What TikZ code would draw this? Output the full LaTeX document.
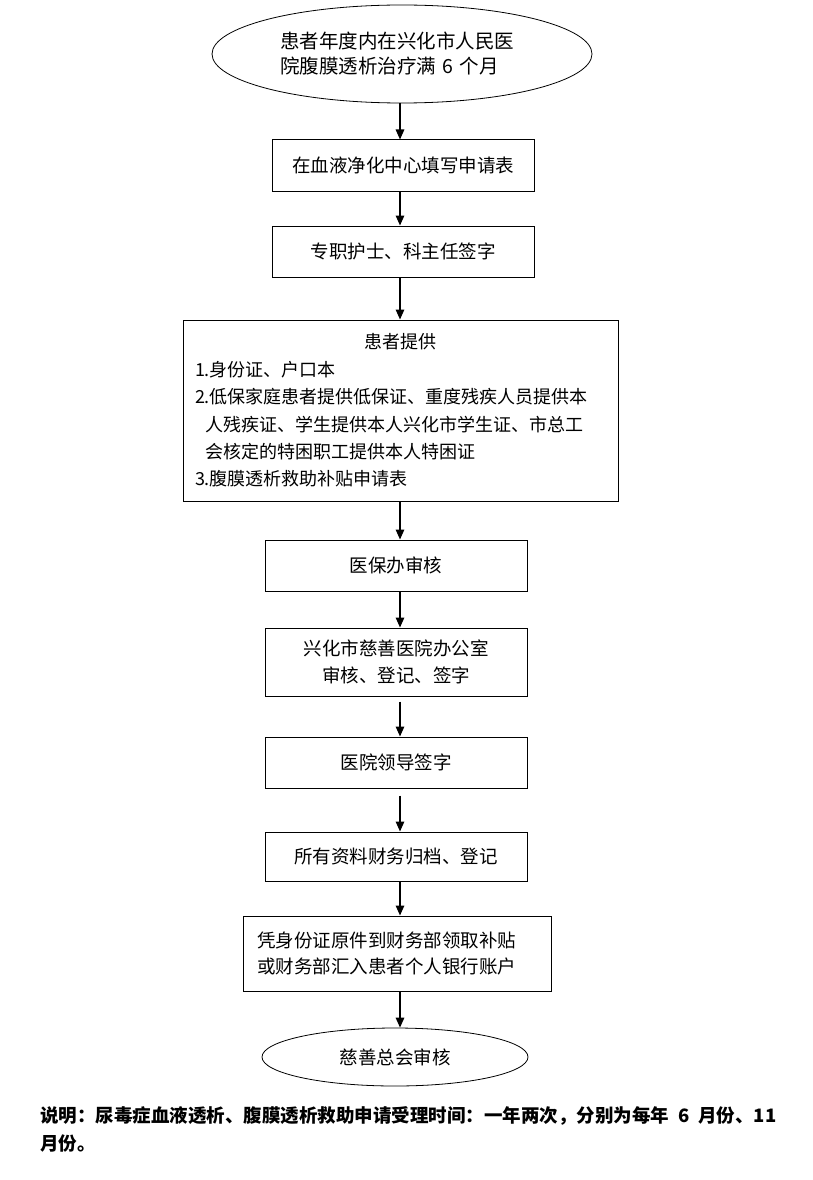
\documentclass[tikz,border=0pt]{standalone}
\usepackage{fontspec}
\usepackage{tikz}
\usetikzlibrary{shapes.geometric,arrows.meta}
\newfontfamily\cjk{Noto Sans CJK SC}

\begin{document}
\begin{tikzpicture}[x=1pt, y=-1pt,
  stepbox/.style={draw, line width=1pt, inner sep=0pt, align=center, font=\cjk\fontsize{18.5}{26.5}\selectfont},
  termoval/.style={draw, ellipse, line width=0.8pt, inner sep=0pt, align=center, font=\cjk\fontsize{18.5}{25}\selectfont},
  flow/.style={line width=1.5pt, -{Triangle[length=10pt, width=8.5pt]}}]
  \useasboundingbox (0,0) rectangle (813,1180);
  \coordinate (spine) at (400,0);

  \node[termoval, minimum width=380pt, minimum height=98pt, text width=244pt, align=left, font=\cjk\fontsize{19.5}{25}\selectfont] (start) at (402,54) {患者年度内在兴化市人民医\\院腹膜透析治疗满 6 个月};
  \node[stepbox, minimum width=262pt, minimum height=51pt] (form) at (403,165.5) {在血液净化中心填写申请表};
  \node[stepbox, minimum width=262pt, minimum height=51pt] (sign) at (403,251.5) {专职护士、科主任签字};
  \node[stepbox, minimum width=435pt, minimum height=181pt, text width=411pt, align=left, font=\cjk\fontsize{18}{27.4}\selectfont] (supply) at (400.5,410.5) {\makebox[\linewidth]{患者提供}\\
    1.身份证、户口本\\
    2.低保家庭患者提供低保证、重度残疾人员提供本\\
    \hspace*{10pt}人残疾证、学生提供本人兴化市学生证、市总工\\
    \hspace*{10pt}会核定的特困职工提供本人特困证\\
    3.腹膜透析救助补贴申请表};
  \node[stepbox, minimum width=262pt, minimum height=51pt] (insure) at (396,565.5) {医保办审核};
  \node[stepbox, minimum width=262pt, minimum height=68pt] (charity) at (396,662) {兴化市慈善医院办公室\\审核、登记、签字};
  \node[stepbox, minimum width=262pt, minimum height=51pt] (leader) at (396,762.5) {医院领导签字};
  \node[stepbox, minimum width=262pt, minimum height=49pt] (archive) at (396,856.5) {所有资料财务归档、登记};
  \node[stepbox, minimum width=308pt, minimum height=75pt, text width=280pt, align=left] (payout) at (397,953.5) {凭身份证原件到财务部领取补贴\\或财务部汇入患者个人银行账户};
  \node[termoval, minimum width=266pt, minimum height=58pt] (finish) at (395,1057) {慈善总会审核};

  \foreach \a/\b in {start/form, form/sign, sign/supply, supply/insure, insure/charity, archive/payout, payout/finish}
    \draw[flow] (\a.south -| spine) -- (\b.north -| spine);
  \draw[flow, shorten <=5pt] (charity.south -| spine) -- (leader.north -| spine);
  \draw[flow, shorten <=7pt] (leader.south -| spine) -- (archive.north -| spine);

  \node[anchor=west, inner sep=0pt, align=left, font=\cjk\bfseries\fontsize{18.5}{28}\selectfont] (note) at (40,1129) {说明：尿毒症血液透析、腹膜透析救助申请受理时间：一年两次，分别为每年\hspace{9pt}6\hspace{9pt}月份、11\\月份。};
\end{tikzpicture}
\end{document}
